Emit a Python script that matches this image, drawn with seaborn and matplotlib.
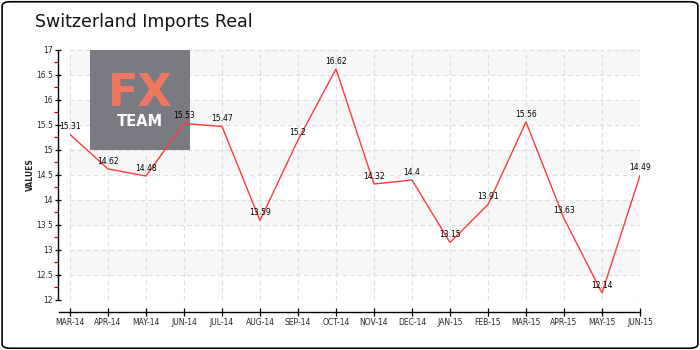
import matplotlib
matplotlib.use("Agg")
import matplotlib.pyplot as plt
from matplotlib.patches import FancyBboxPatch, Rectangle
import seaborn as sns
import pandas as pd
import numpy as np

months = ["MAR-14", "APR-14", "MAY-14", "JUN-14", "JUL-14", "AUG-14", "SEP-14", "OCT-14",
          "NOV-14", "DEC-14", "JAN-15", "FEB-15", "MAR-15", "APR-15", "MAY-15", "JUN-15"]
values = [15.31, 14.62, 14.48, 15.53, 15.47, 13.59, 15.2, 16.62,
          14.32, 14.4, 13.15, 13.91, 15.56, 13.63, 12.14, 14.49]
value_labels = ["15.31", "14.62", "14.48", "15.53", "15.47", "13.59", "15.2", "16.62",
                "14.32", "14.4", "13.15", "13.91", "15.56", "13.63", "12.14", "14.49"]
y_ticks = [12, 12.5, 13, 13.5, 14, 14.5, 15, 15.5, 16, 16.5, 17]
y_tick_labels = ["12", "12.5", "13", "13.5", "14", "14.5", "15", "15.5", "16", "16.5", "17"]

df = pd.DataFrame({"idx": np.arange(len(months)), "month": months, "value": values})

sns.set_theme(style="white")
plt.rcParams["font.family"] = ["DejaVu Sans"]

fig = plt.figure(figsize=(7, 3.5), dpi=100)
fig.patch.set_facecolor("white")
fig.patches.append(FancyBboxPatch((0.003, 0.005), 0.994, 0.99, boxstyle="round,pad=0,rounding_size=0.012",
                                  transform=fig.transFigure, fill=False, edgecolor="black", linewidth=1.2))

ax = fig.add_axes([0.1, 0.1429, 0.8143, 0.7143])
ax.set_xlim(0, len(months) - 1)
ax.set_ylim(12, 17)

# alternating horizontal bands
for lo in [12.5, 13.5, 14.5, 15.5, 16.5]:
    ax.axhspan(lo, lo + 0.5, color="#f7f7f7", zorder=0, lw=0)

for y in y_ticks:
    ax.axhline(y, color="#dddddd", lw=0.8, ls=(0, (4, 3)), zorder=0.5)
for x in range(len(months)):
    ax.axvline(x, color="#dddddd", lw=0.8, ls=(0, (4, 3)), zorder=0.5)

# logo box
ax.add_patch(Rectangle((90 / 700, 200 / 350), 100 / 700, 100 / 350, transform=fig.transFigure,
                       facecolor="#7a7a82", edgecolor="none", zorder=1))
fig.text(140 / 700, 256 / 350, "FX", color="#f07860", fontsize=32, ha="center", va="center",
         fontweight="bold", zorder=2)
fig.text(140 / 700, 228 / 350, "TEAM", color="white", fontsize=10.5, ha="center", va="center",
         fontweight="bold", zorder=2)

sns.lineplot(data=df, x="idx", y="value", ax=ax, color="#ff3b3b", lw=1.0, zorder=3)

for i, (v, lab) in enumerate(zip(values, value_labels)):
    ax.annotate(lab, (i, v), xytext=(0, 2.5), textcoords="offset points", ha="center", va="bottom",
                fontsize=5.5, color="black", zorder=4)

ax.set_xticks(range(len(months)))
ax.set_yticks(y_ticks)
ax.set_yticks(np.arange(12.25, 17, 0.5), minor=True)
ax.tick_params(axis="y", which="major", direction="inout", length=5, width=0.9, color="black",
               pad=1, labelsize=5.5, left=True)
ax.tick_params(axis="y", which="minor", direction="out", length=3, width=0.9, color="#e00000", left=True)
ax.tick_params(axis="x", which="major", direction="inout", length=6, width=0.9, color="black",
               pad=1, labelsize=5.5, bottom=True)
ax.set_xticklabels(months, fontsize=5.5)
ax.set_yticklabels(y_tick_labels, fontsize=5.5)

for s in ["top", "right"]:
    ax.spines[s].set_visible(False)
ax.spines["left"].set_position(("outward", 9))
ax.spines["bottom"].set_position(("outward", 9))
ax.spines["left"].set_color("black")
ax.spines["bottom"].set_color("black")
ax.spines["left"].set_linewidth(1.0)
ax.spines["bottom"].set_linewidth(1.0)
ax.spines["bottom"].set_bounds(-0.3, len(months) - 1)

ax.set_xlabel("")
ax.set_ylabel("VALUES", fontsize=5.5, fontweight="bold", va="center")
ax.yaxis.set_label_coords(-0.07, 0.5)

fig.text(35 / 700, 1 - 22 / 350, "Switzerland Imports Real", fontsize=12.5, ha="left", va="center", color="#111111")

fig.savefig("out.png", dpi=100)
